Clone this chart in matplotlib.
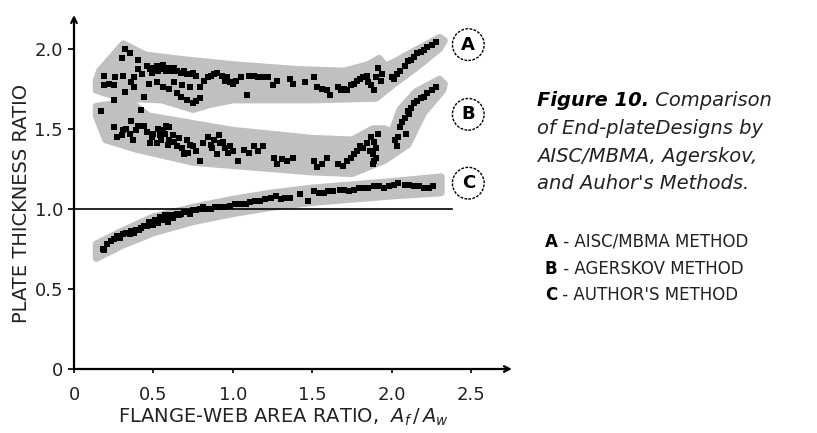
import matplotlib
matplotlib.use("Agg")
import matplotlib.pyplot as plt

# scatter points (x = Af/Aw, y = plate thickness ratio)
a_pts = [(0.19,1.83),(0.19,1.77),(0.25,1.77),(0.31,1.83),(0.32,2.00),(0.35,1.97),(0.30,1.94),(0.40,1.93),
         (0.40,1.87),(0.38,1.82),(0.36,1.79),(0.32,1.73),(0.25,1.68),(0.38,1.76),(0.44,1.70),(0.48,1.87),
         (0.50,1.88),(0.52,1.89),(0.54,1.87),(0.56,1.90),(0.58,1.86),(0.60,1.88),(0.63,1.88),(0.65,1.86),
         (0.67,1.85),(0.71,1.84),(0.75,1.85),(0.52,1.79),(0.56,1.76),(0.63,1.79),(0.68,1.77),(0.73,1.76),
         (0.79,1.76),(0.67,1.70),(0.71,1.68),(0.75,1.66),(0.79,1.69),(0.84,1.82),(0.88,1.84),(0.90,1.85),
         (0.93,1.83),(0.96,1.82),(1.00,1.78),(1.05,1.82),(1.09,1.71),(1.13,1.83),(1.16,1.82),(1.19,1.82),
         (1.28,1.80),(1.36,1.81),(1.38,1.78),(1.51,1.82),(1.53,1.76),(1.59,1.74),(1.61,1.71),(1.66,1.76),
         (1.72,1.74),(1.74,1.77),(1.76,1.78),(1.78,1.80),(1.80,1.81),(1.84,1.83),(1.87,1.77),(1.91,1.88),
         (1.93,1.80),(1.89,1.74),(2.00,1.82),(2.01,1.81),(2.05,1.86),(2.08,1.89),(2.10,1.92),(2.12,1.93),
         (2.14,1.95),(2.18,1.98),(2.22,2.01),(2.25,2.02),(2.28,2.04),
         (0.46,1.89),(0.49,1.85),(0.53,1.86),(0.57,1.88),(0.61,1.86),(0.69,1.86),(0.73,1.84),(0.77,1.83),
         (0.82,1.80),(0.86,1.83),(0.95,1.80),(0.98,1.79),(1.02,1.80),(1.10,1.83),(1.22,1.82),(1.25,1.77),
         (1.45,1.79),(1.56,1.75),(1.68,1.74),(1.70,1.75),(1.82,1.82),(1.85,1.79),(1.90,1.82),(1.94,1.84),
         (2.03,1.84),(2.16,1.97),(2.20,1.99),(0.43,1.84),(0.47,1.78),(0.60,1.75),(0.65,1.72),(0.77,1.67),
         (0.26,1.82),(0.22,1.78)]
b_pts = [(0.17,1.61),(0.25,1.51),(0.27,1.45),(0.31,1.49),(0.33,1.50),(0.36,1.55),(0.39,1.49),(0.42,1.62),
         (0.37,1.43),(0.44,1.52),(0.49,1.45),(0.50,1.47),(0.52,1.41),(0.54,1.46),(0.56,1.49),(0.58,1.52),
         (0.60,1.51),(0.60,1.43),(0.62,1.46),(0.65,1.39),(0.69,1.34),(0.71,1.43),(0.73,1.40),(0.75,1.39),
         (0.79,1.30),(0.84,1.45),(0.86,1.40),(0.88,1.43),(0.92,1.41),(0.90,1.34),(0.95,1.38),(0.98,1.39),
         (1.03,1.30),(1.07,1.37),(1.13,1.39),(1.19,1.39),(1.26,1.32),(1.28,1.28),(1.34,1.30),(1.38,1.32),
         (1.51,1.30),(1.53,1.26),(1.59,1.32),(1.66,1.28),(1.72,1.30),(1.74,1.32),(1.76,1.34),(1.80,1.39),
         (1.84,1.41),(1.87,1.45),(1.89,1.30),(1.88,1.34),(1.90,1.38),(1.91,1.47),(2.02,1.43),(2.03,1.39),
         (2.05,1.51),(2.08,1.57),(2.09,1.47),(2.10,1.61),(2.12,1.63),(2.14,1.66),(2.18,1.69),(2.22,1.72),
         (2.25,1.74),(2.28,1.76),
         (0.30,1.46),(0.35,1.47),(0.40,1.52),(0.46,1.48),(0.48,1.41),(0.53,1.50),(0.55,1.43),(0.57,1.47),
         (0.59,1.40),(0.63,1.42),(0.66,1.44),(0.68,1.38),(0.72,1.35),(0.77,1.36),(0.81,1.41),(0.87,1.38),
         (0.91,1.46),(0.94,1.42),(0.97,1.35),(1.00,1.36),(1.10,1.35),(1.16,1.36),(1.31,1.31),(1.56,1.28),
         (1.69,1.27),(1.78,1.36),(1.82,1.38),(1.86,1.36),(1.88,1.28),(1.90,1.32),(1.89,1.42),(2.04,1.45),
         (2.06,1.54),(2.11,1.59),(2.16,1.67),(2.20,1.70)]
c_pts = [(0.18,0.75),(0.19,0.74),(0.23,0.80),(0.25,0.81),(0.27,0.83),(0.31,0.84),(0.33,0.85),(0.36,0.86),
         (0.39,0.87),(0.42,0.88),(0.44,0.89),(0.48,0.91),(0.50,0.90),(0.52,0.92),(0.54,0.95),(0.56,0.93),
         (0.58,0.93),(0.60,0.95),(0.63,0.96),(0.65,0.97),(0.67,0.97),(0.71,0.98),(0.75,0.99),(0.79,1.00),
         (0.83,1.00),(0.86,1.00),(0.89,1.01),(0.92,1.01),(0.98,1.02),(1.05,1.03),(1.11,1.04),(1.17,1.05),
         (1.24,1.07),(1.30,1.06),(1.36,1.07),(1.42,1.09),(1.47,1.05),(1.51,1.11),(1.57,1.10),(1.63,1.11),
         (1.70,1.12),(1.76,1.12),(1.82,1.13),(1.89,1.14),(1.95,1.13),(2.01,1.15),(2.08,1.15),(2.14,1.14),
         (2.20,1.13),(2.26,1.14),
         (0.21,0.78),(0.29,0.82),(0.35,0.84),(0.38,0.85),(0.41,0.87),(0.46,0.89),(0.47,0.92),(0.51,0.93),
         (0.53,0.91),(0.55,0.94),(0.57,0.96),(0.59,0.92),(0.61,0.96),(0.62,0.94),(0.66,0.96),(0.69,0.98),
         (0.73,0.97),(0.77,0.99),(0.81,1.01),(0.95,1.01),(1.01,1.03),(1.08,1.03),(1.14,1.05),(1.20,1.06),
         (1.27,1.08),(1.33,1.07),(1.54,1.10),(1.60,1.11),(1.67,1.12),(1.73,1.11),(1.79,1.13),(1.85,1.13),
         (1.92,1.14),(1.98,1.14),(2.04,1.16),(2.11,1.15),(2.17,1.14),(2.23,1.13)]

# grey envelopes (upper edge left->right, lower edge left->right)
a_up = [(0.14,1.80),(0.16,1.86),(0.31,2.03),(0.45,1.96),(0.7,1.93),(1.0,1.90),(1.4,1.87),(1.7,1.86),
        (1.85,1.90),(1.92,1.94),(1.96,1.89),(2.02,1.92),(2.15,1.99),(2.3,2.07),(2.33,2.05)]
a_lo = [(0.14,1.74),(0.3,1.69),(0.55,1.68),(0.75,1.62),(0.85,1.65),(1.0,1.68),(1.5,1.68),(1.9,1.69),
        (2.0,1.77),(2.15,1.88),(2.3,2.00)]
b_up = [(0.14,1.64),(0.35,1.67),(0.47,1.58),(1.0,1.49),(1.5,1.44),(1.75,1.43),(1.88,1.50),(1.95,1.50),
        (2.0,1.48),(2.05,1.62),(2.15,1.73),(2.3,1.81),(2.33,1.78)]
b_lo = [(0.14,1.58),(0.2,1.43),(0.4,1.37),(0.75,1.29),(1.0,1.27),(1.5,1.23),(1.75,1.22),(1.95,1.30),
        (2.1,1.40),(2.2,1.60),(2.32,1.74)]
c_up = [(0.14,0.78),(0.3,0.86),(0.5,0.95),(0.75,1.01),(1.0,1.06),(1.25,1.10),(1.5,1.13),(1.75,1.15),
        (2.0,1.17),(2.31,1.20)]
c_lo = [(0.14,0.69),(0.3,0.77),(0.5,0.85),(0.75,0.92),(1.0,0.97),(1.25,1.01),(1.5,1.04),(1.75,1.06),
        (2.0,1.08),(2.31,1.10)]

labels = ["A", "B", "C"]
label_y = [2.025, 1.59, 1.16]
methods = ["AISC/MBMA METHOD", "AGERSKOV METHOD", "AUTHOR'S METHOD"]
caption = ["of End-plateDesigns by", "AISC/MBMA, Agerskov,", "and Auhor's Methods."]
xticks = [0, 0.5, 1.0, 1.5, 2.0, 2.5]
xticklabels = ["0", "0.5", "1.0", "1.5", "2.0", "2.5"]
yticks = [0, 0.5, 1.0, 1.5, 2.0]
yticklabels = ["0", "0.5", "1.0", "1.5", "2.0"]

W, H = 817, 433
fig = plt.figure(figsize=(W/100, H/100), dpi=100)
ax = fig.add_axes([74/W, 64/H, (512-74)/W, (369-15)/H])
ax.set_xlim(0, 2.755)
ax.set_ylim(0, 2.21)

grey = "#c0c0c0"
for up, lo in [(a_up, a_lo), (b_up, b_lo), (c_up, c_lo)]:
    xs = [p[0] for p in up] + [p[0] for p in lo[::-1]]
    ys = [p[1] for p in up] + [p[1] for p in lo[::-1]]
    ax.fill(xs, ys, color=grey, lw=5, ec=grey, joinstyle="round", zorder=1)

ax.plot([0, 2.38], [1.0, 1.0], color="black", lw=1.2, zorder=2)

for pts in [a_pts, b_pts, c_pts]:
    ax.plot([p[0] for p in pts], [p[1] for p in pts], "s", color="black", ms=3.8, mew=0, zorder=3)

for lab, yy in zip(labels, label_y):
    ax.text(2.48, yy, lab, ha="center", va="center", fontsize=13, fontweight="bold",
            bbox=dict(boxstyle="circle,pad=0.38", fc="white", ec="black", lw=1, ls=(0, (2, 1))))

# axes drawn as arrows
for s in ax.spines.values():
    s.set_visible(False)
ax.annotate("", xy=(1, 0), xytext=(0, 0), xycoords="axes fraction",
            arrowprops=dict(arrowstyle="->", lw=1.6, color="black", shrinkA=0, shrinkB=0))
ax.annotate("", xy=(0, 1), xytext=(0, 0), xycoords="axes fraction",
            arrowprops=dict(arrowstyle="->", lw=1.6, color="black", shrinkA=0, shrinkB=0))

ax.set_xticks(xticks)
ax.set_xticklabels(xticklabels, fontsize=13, color="#222222")
ax.set_yticks(yticks)
ax.set_yticklabels(yticklabels, fontsize=13, color="#222222")
ax.tick_params(axis="x", direction="out", length=3, width=1.2, pad=9)
ax.tick_params(axis="y", direction="out", length=4, width=1.2, pad=4)

fig.text(283/W, 1-417/H, r"FLANGE-WEB AREA RATIO,  $A_f\,/\,A_w$", ha="center", va="center",
         fontsize=14, color="#222222")
fig.text(22/W, 1-203/H, "PLATE THICKNESS RATIO", ha="center", va="center", rotation=90,
         fontsize=14, color="#222222")

# caption
t1 = fig.text(537/W, 1-100/H, "Figure 10.", ha="left", va="center", fontsize=14,
              fontweight="bold", style="italic")
ax.annotate(" Comparison", xy=(1, 0.5), xycoords=t1, ha="left", va="center", fontsize=14,
            style="italic", color="#222222")
for i, line in enumerate(caption):
    fig.text(537/W, 1-(128.5+27.5*i)/H, line, ha="left", va="center", fontsize=14,
             style="italic", color="#222222")

for i, (lab, m) in enumerate(zip(labels, methods)):
    t = fig.text(545/W, 1-(242+26.5*i)/H, lab, ha="left", va="center", fontsize=12, fontweight="bold")
    ax.annotate(" - " + m, xy=(1, 0.5), xycoords=t, ha="left", va="center", fontsize=12,
                color="#222222")

fig.savefig("out.png", dpi=100)
